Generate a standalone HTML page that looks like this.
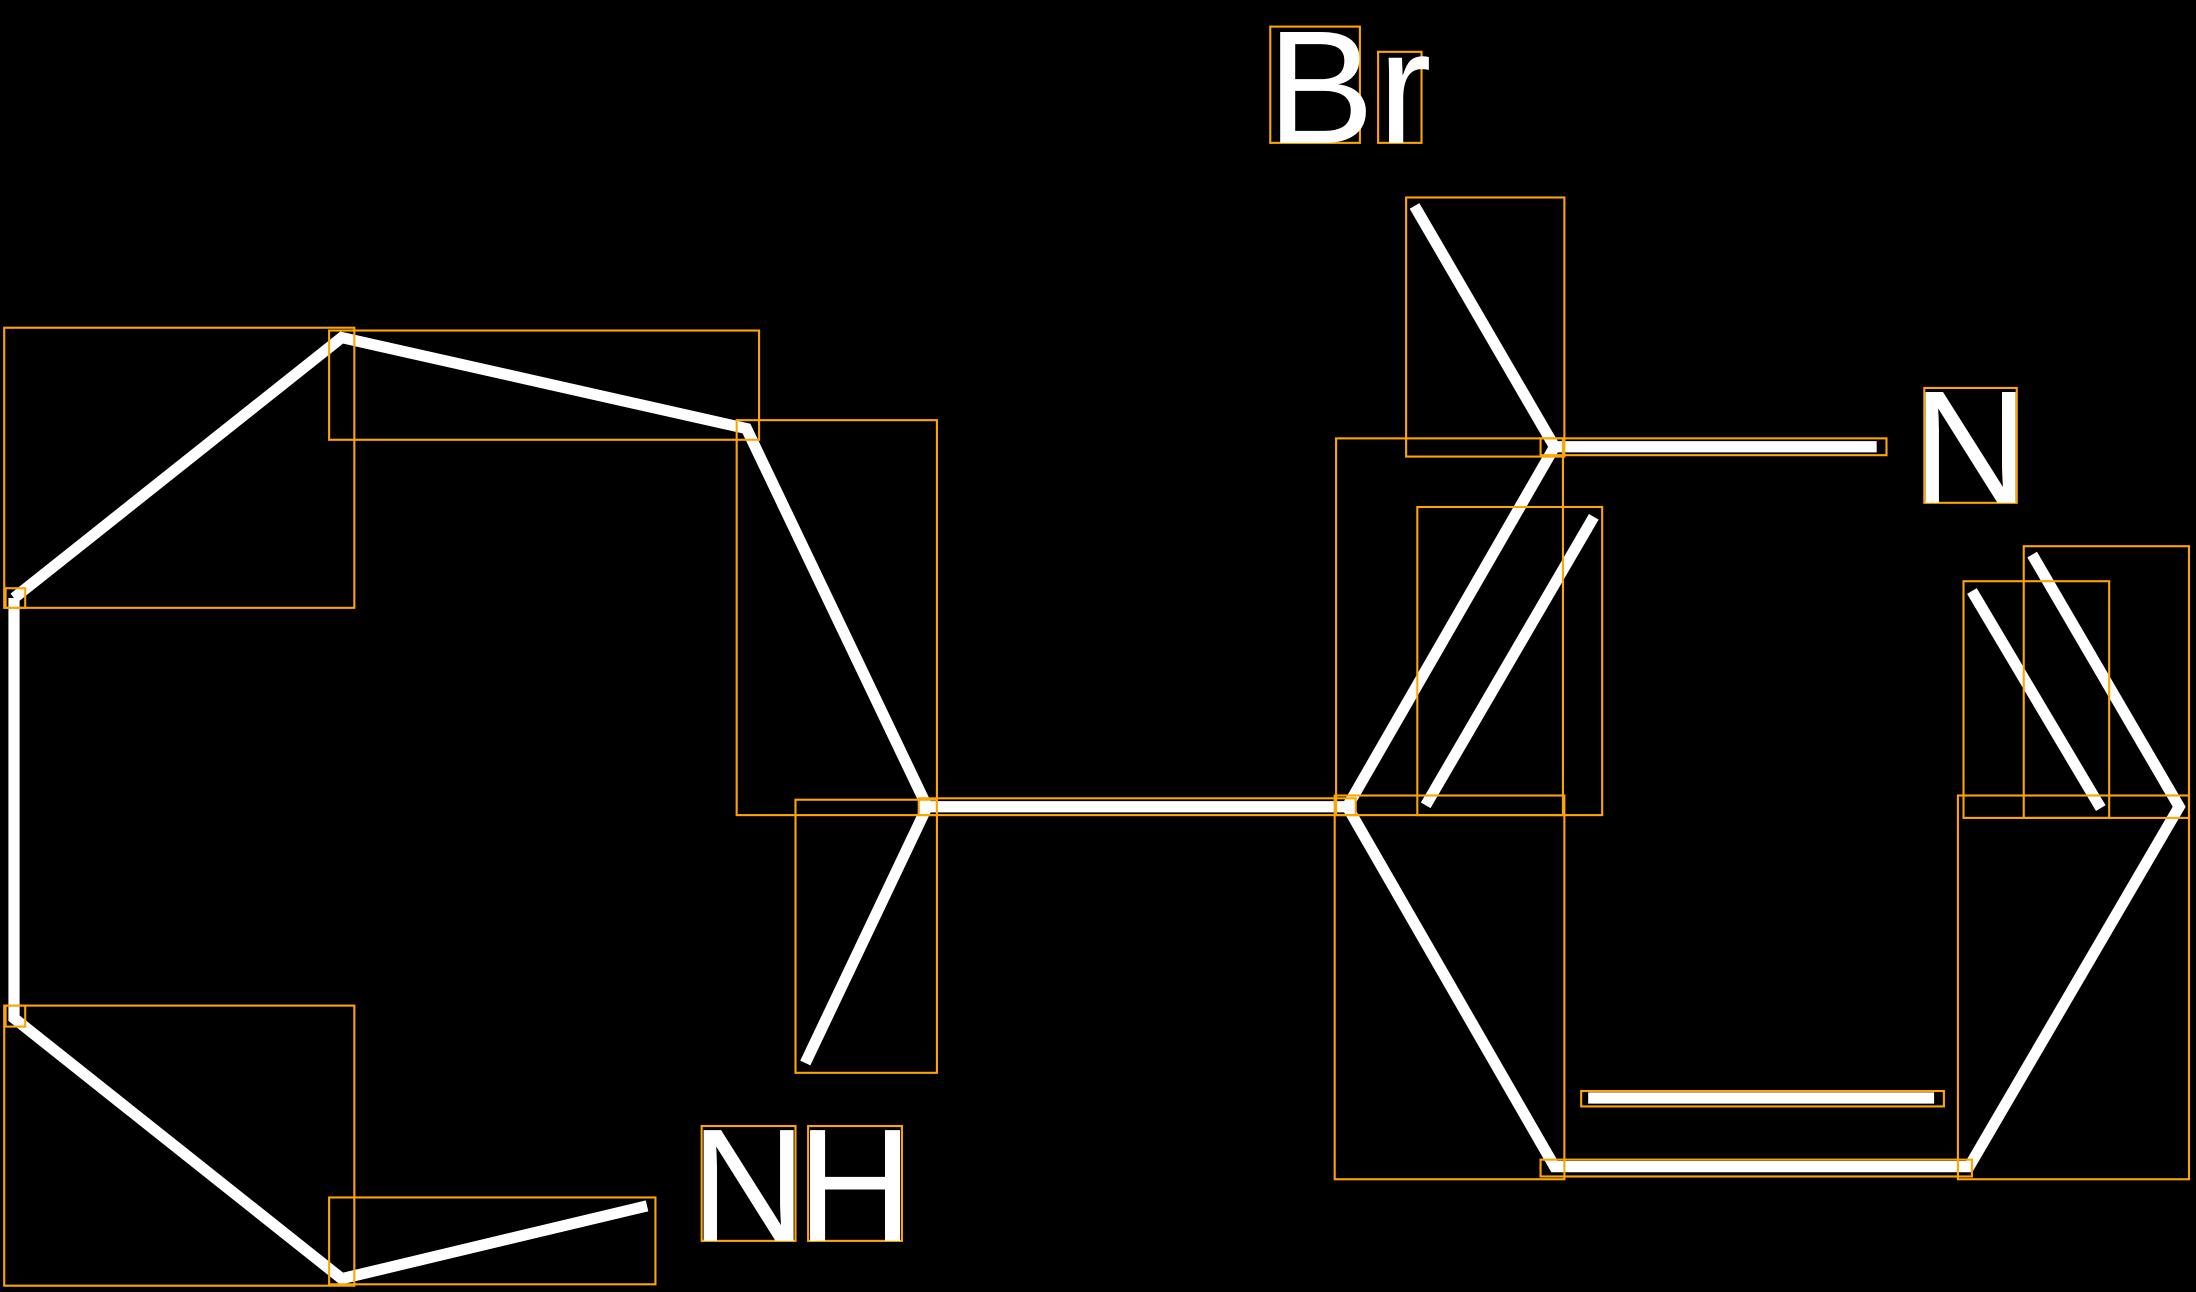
<!DOCTYPE html>
<html><head><meta charset="utf-8"><style>
html,body{margin:0;padding:0;background:#000;width:2196px;height:1292px;overflow:hidden}
svg{display:block}
text{font-family:"Liberation Sans",sans-serif;fill:#fff;font-size:115px;text-anchor:middle}
</style></head><body>
<svg width="2196" height="1292" viewBox="0 0 1568 922.5" preserveAspectRatio="none">
<rect width="1568" height="922.5" fill="#000"/>
<g stroke="#fff" stroke-width="8" fill="none" stroke-linecap="butt" stroke-linejoin="miter">
<polyline points="10,427 244,241 533,306 662,576 575,759"/>
<polyline points="10,427 10,727 244,913 462,861"/>
<line x1="656" y1="576" x2="968" y2="576"/>
<polyline points="1010,147 1110,319 962,576 1110,833 1406,833 1556,576 1451,396"/>
<line x1="1110" y1="319" x2="1340" y2="319"/>
<line x1="1018" y1="575" x2="1138" y2="369"/>
<line x1="1134" y1="784" x2="1381" y2="784"/>
<line x1="1500" y1="577" x2="1408" y2="422"/>
</g>
<g stroke="#FFA500" stroke-width="1.5" fill="none">
<rect x="3" y="234" width="250" height="200"/>
<rect x="235" y="236" width="307" height="78"/>
<rect x="526" y="300" width="143" height="282"/>
<rect x="568" y="571" width="101" height="195"/>
<rect x="4" y="420" width="14" height="14"/>
<rect x="4" y="718" width="14" height="15"/>
<rect x="3" y="718" width="250" height="200"/>
<rect x="235" y="855" width="233" height="62"/>
<rect x="656" y="570" width="312" height="12"/>
<rect x="954" y="313" width="162" height="269"/>
<rect x="1004" y="141" width="113" height="185"/>
<rect x="1100" y="313" width="247" height="12"/>
<rect x="1012" y="362" width="132" height="220"/>
<rect x="953" y="568" width="164" height="274"/>
<rect x="1100" y="828" width="308" height="12"/>
<rect x="1129" y="779" width="259" height="11"/>
<rect x="1398" y="568" width="165" height="274"/>
<rect x="1402" y="415" width="104" height="169"/>
<rect x="1445" y="390" width="118" height="194"/>
<rect x="907" y="19" width="64" height="83"/>
<rect x="984" y="37" width="31" height="65"/>
<rect x="1374" y="277" width="66" height="82"/>
<rect x="501" y="804" width="67" height="82"/>
<rect x="577" y="804" width="67" height="82"/>
</g>
<text x="943" y="102">B</text>
<text x="1003" y="102">r</text>
<text x="1407" y="359">N</text>
<text x="534.5" y="886">N</text>
<text x="610.5" y="886">H</text>
</svg>
</body></html>
